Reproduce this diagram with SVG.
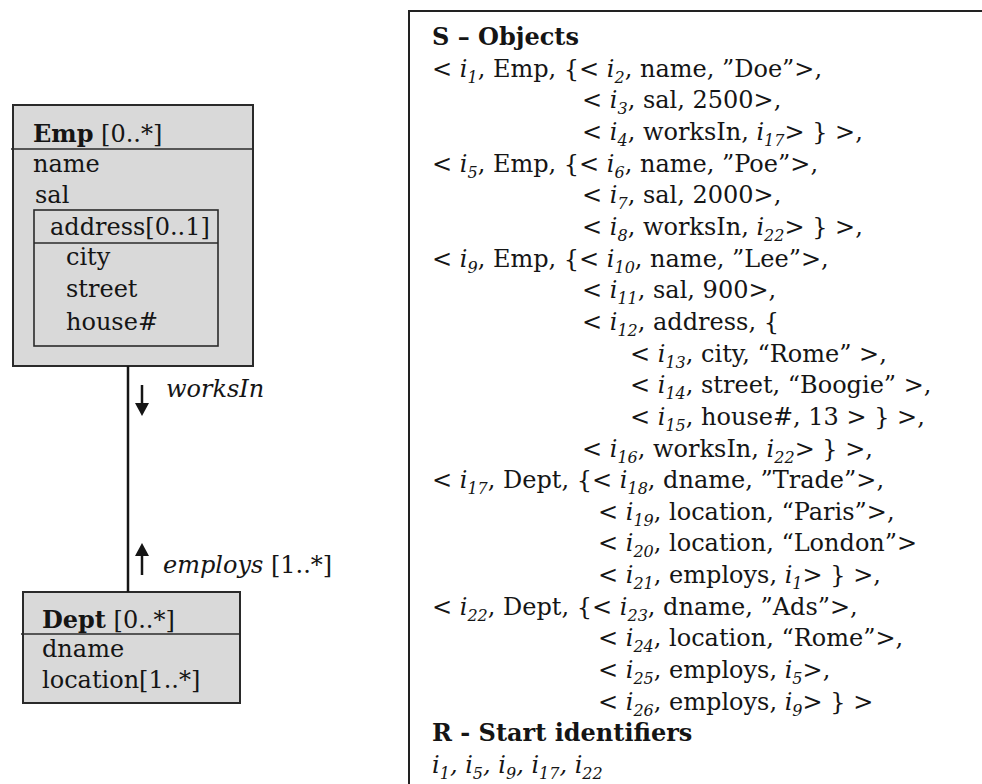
<svg xmlns="http://www.w3.org/2000/svg" width="982" height="784" viewBox="0 0 982 784">
<style>
.t{font-family:"DejaVu Serif","Liberation Serif",serif;font-size:24px;fill:#151515}
.b{font-weight:bold}
.it{font-style:italic}
.s{font-size:16px;font-style:italic}
.box{fill:#d9d9d9;stroke:#2a2a2a;stroke-width:2}
.inner{fill:none;stroke:#2a2a2a;stroke-width:1.6}
.div{stroke:#2a2a2a;stroke-width:1.6}
.conn{stroke:#151515;stroke-width:2.5;fill:none}
.arr{fill:#151515}
</style>
<rect width="982" height="784" fill="#ffffff"/>

<g id="emp">
<rect class="box" x="13" y="105" width="240" height="261"/>
<line class="div" x1="11" y1="149" x2="253" y2="149"/>
<text class="t" x="33" y="142"><tspan class="b">Emp</tspan> [0..*]</text>
<text class="t" x="33" y="172">name</text>
<text class="t" x="35" y="203">sal</text>
<g id="address">
<rect class="inner" x="34" y="210" width="184" height="136"/>
<line class="div" x1="34" y1="243" x2="218" y2="243"/>
<text class="t" x="50" y="235">address[0..1]</text>
<text class="t" x="66" y="265">city</text>
<text class="t" x="66" y="297">street</text>
<text class="t" x="66" y="330">house#</text>
</g>
</g>

<g id="dept">
<rect class="box" x="23" y="592" width="217" height="111"/>
<line class="div" x1="21" y1="634" x2="240" y2="634"/>
<text class="t" x="42" y="628"><tspan class="b">Dept</tspan> [0..*]</text>
<text class="t" x="42" y="657">dname</text>
<text class="t" x="42" y="688">location[1..*]</text>
</g>

<g id="connectors">
<line class="conn" x1="128" y1="366" x2="128" y2="592"/>
<line class="conn" x1="142" y1="385" x2="142" y2="404"/>
<polygon class="arr" points="135,403 149,403 142,416"/>
<line class="conn" x1="142" y1="575" x2="142" y2="555"/>
<polygon class="arr" points="135,556 149,556 142,543"/>
<text class="t it" x="166" y="397">worksIn</text>
<text class="t" x="163" y="573"><tspan class="it">employs</tspan> [1..*]</text>
</g>

<g id="objects">
<path d="M982,11 H409 V784" fill="none" stroke="#222" stroke-width="2"/>
<text class="t b" x="432" y="45">S – Objects</text>
<text class="t" x="432" y="76.6">&lt; <tspan class="it">i</tspan><tspan class="s" dy="6">1</tspan><tspan dy="-6">, Emp, {&lt; </tspan><tspan class="it">i</tspan><tspan class="s" dy="6">2</tspan><tspan dy="-6">, name, ”Doe”&gt;,</tspan></text>
<text class="t" x="582" y="108.3">&lt; <tspan class="it">i</tspan><tspan class="s" dy="6">3</tspan><tspan dy="-6">, sal, 2500&gt;,</tspan></text>
<text class="t" x="582" y="140">&lt; <tspan class="it">i</tspan><tspan class="s" dy="6">4</tspan><tspan dy="-6">, worksIn, </tspan><tspan class="it">i</tspan><tspan class="s" dy="6">17</tspan><tspan dy="-6">&gt; } &gt;,</tspan></text>
<text class="t" x="432" y="171.6">&lt; <tspan class="it">i</tspan><tspan class="s" dy="6">5</tspan><tspan dy="-6">, Emp, {&lt; </tspan><tspan class="it">i</tspan><tspan class="s" dy="6">6</tspan><tspan dy="-6">, name, ”Poe”&gt;,</tspan></text>
<text class="t" x="582" y="203.3">&lt; <tspan class="it">i</tspan><tspan class="s" dy="6">7</tspan><tspan dy="-6">, sal, 2000&gt;,</tspan></text>
<text class="t" x="582" y="234.9">&lt; <tspan class="it">i</tspan><tspan class="s" dy="6">8</tspan><tspan dy="-6">, worksIn, </tspan><tspan class="it">i</tspan><tspan class="s" dy="6">22</tspan><tspan dy="-6">&gt; } &gt;,</tspan></text>
<text class="t" x="432" y="266.6">&lt; <tspan class="it">i</tspan><tspan class="s" dy="6">9</tspan><tspan dy="-6">, Emp, {&lt; </tspan><tspan class="it">i</tspan><tspan class="s" dy="6">10</tspan><tspan dy="-6">, name, ”Lee”&gt;,</tspan></text>
<text class="t" x="582" y="298.2">&lt; <tspan class="it">i</tspan><tspan class="s" dy="6">11</tspan><tspan dy="-6">, sal, 900&gt;,</tspan></text>
<text class="t" x="582" y="329.9">&lt; <tspan class="it">i</tspan><tspan class="s" dy="6">12</tspan><tspan dy="-6">, address, {</tspan></text>
<text class="t" x="630" y="361.5">&lt; <tspan class="it">i</tspan><tspan class="s" dy="6">13</tspan><tspan dy="-6">, city, “Rome” &gt;,</tspan></text>
<text class="t" x="630" y="393.2">&lt; <tspan class="it">i</tspan><tspan class="s" dy="6">14</tspan><tspan dy="-6">, street, “Boogie” &gt;,</tspan></text>
<text class="t" x="630" y="424.8">&lt; <tspan class="it">i</tspan><tspan class="s" dy="6">15</tspan><tspan dy="-6">, house#, 13 &gt; } &gt;,</tspan></text>
<text class="t" x="582" y="456.5">&lt; <tspan class="it">i</tspan><tspan class="s" dy="6">16</tspan><tspan dy="-6">, worksIn, </tspan><tspan class="it">i</tspan><tspan class="s" dy="6">22</tspan><tspan dy="-6">&gt; } &gt;,</tspan></text>
<text class="t" x="432" y="488.1">&lt; <tspan class="it">i</tspan><tspan class="s" dy="6">17</tspan><tspan dy="-6">, Dept, {&lt; </tspan><tspan class="it">i</tspan><tspan class="s" dy="6">18</tspan><tspan dy="-6">, dname, ”Trade”&gt;,</tspan></text>
<text class="t" x="598" y="519.8">&lt; <tspan class="it">i</tspan><tspan class="s" dy="6">19</tspan><tspan dy="-6">, location, “Paris”&gt;,</tspan></text>
<text class="t" x="598" y="551.4">&lt; <tspan class="it">i</tspan><tspan class="s" dy="6">20</tspan><tspan dy="-6">, location, “London”&gt;</tspan></text>
<text class="t" x="598" y="583">&lt; <tspan class="it">i</tspan><tspan class="s" dy="6">21</tspan><tspan dy="-6">, employs, </tspan><tspan class="it">i</tspan><tspan class="s" dy="6">1</tspan><tspan dy="-6">&gt; } &gt;,</tspan></text>
<text class="t" x="432" y="614.7">&lt; <tspan class="it">i</tspan><tspan class="s" dy="6">22</tspan><tspan dy="-6">, Dept, {&lt; </tspan><tspan class="it">i</tspan><tspan class="s" dy="6">23</tspan><tspan dy="-6">, dname, ”Ads”&gt;,</tspan></text>
<text class="t" x="598" y="646.4">&lt; <tspan class="it">i</tspan><tspan class="s" dy="6">24</tspan><tspan dy="-6">, location, “Rome”&gt;,</tspan></text>
<text class="t" x="598" y="678">&lt; <tspan class="it">i</tspan><tspan class="s" dy="6">25</tspan><tspan dy="-6">, employs, </tspan><tspan class="it">i</tspan><tspan class="s" dy="6">5</tspan><tspan dy="-6">&gt;,</tspan></text>
<text class="t" x="598" y="709.7">&lt; <tspan class="it">i</tspan><tspan class="s" dy="6">26</tspan><tspan dy="-6">, employs, </tspan><tspan class="it">i</tspan><tspan class="s" dy="6">9</tspan><tspan dy="-6">&gt; } &gt;</tspan></text>
<text class="t b" x="432" y="741.3">R - Start identifiers</text>
<text class="t it" x="432" y="773">i<tspan class="s" dy="6">1</tspan><tspan dy="-6">, i</tspan><tspan class="s" dy="6">5</tspan><tspan dy="-6">, i</tspan><tspan class="s" dy="6">9</tspan><tspan dy="-6">, i</tspan><tspan class="s" dy="6">17</tspan><tspan dy="-6">, i</tspan><tspan class="s" dy="6">22</tspan></text>
</g>
</svg>
